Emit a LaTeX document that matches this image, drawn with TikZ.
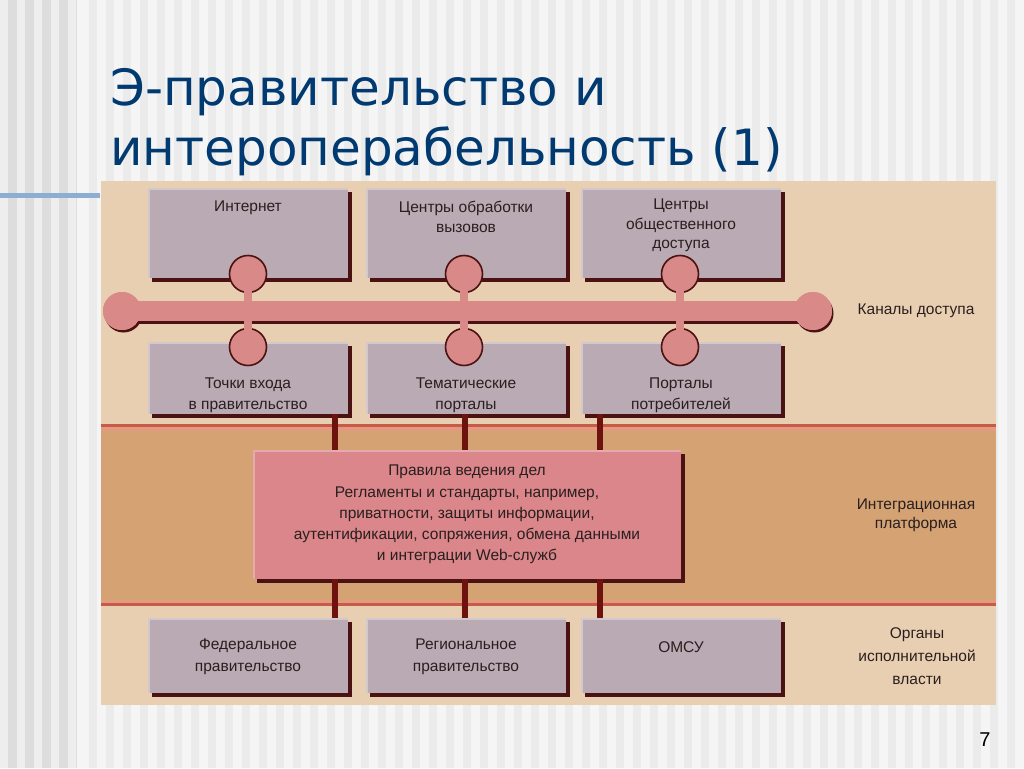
\documentclass[tikz,border=0pt]{standalone}
\usepackage{fontspec}
\setmainfont{Liberation Sans}
\newfontfamily\titlefont{DejaVu Sans}
\usetikzlibrary{shadows}
\definecolor{bgA}{HTML}{F5F5F5}
\definecolor{bgB}{HTML}{EBEBEB}
\definecolor{bgL}{HTML}{DDDDDD}
\definecolor{bgLl}{HTML}{EEEEEE}
\definecolor{beige}{HTML}{E9CFB2}
\definecolor{band}{HTML}{D4A273}
\definecolor{bandline}{HTML}{C65C48}
\definecolor{bandpink}{HTML}{E39A80}
\definecolor{boxfill}{HTML}{B9AAB3}
\definecolor{shadowc}{HTML}{4A1212}
\definecolor{barpink}{HTML}{D98A88}
\definecolor{platpink}{HTML}{DA868A}
\definecolor{connc}{HTML}{6E1210}
\definecolor{titleblue}{HTML}{003A70}
\definecolor{txt}{HTML}{2A1F1F}
\definecolor{blueline}{HTML}{8CAED0}
\tikzset{
  hilite/.style={path picture={\draw[line width=3pt, #1]
      (path picture bounding box.south west) -- (path picture bounding box.north west)
      -- (path picture bounding box.north east);}},
  gbox/.style={fill=boxfill, inner sep=0pt, minimum width=200pt, hilite=white!35!boxfill,
    drop shadow={shadow xshift=4pt, shadow yshift=-4pt, fill=shadowc, opacity=1}},
  platbox/.style={fill=platpink, inner sep=0pt, minimum width=428pt, minimum height=129pt,
    hilite=white!30!platpink,
    drop shadow={shadow xshift=4pt, shadow yshift=-4pt, fill=shadowc, opacity=1}},
  lbl/.style={inner sep=0pt, align=center, text=txt, font=\fontsize{15.5}{19.5}\selectfont},
  hub/.style={circle, fill=barpink, draw=shadowc, line width=1.6pt, minimum size=37pt, inner sep=0pt},
  hubend/.style={circle, fill=barpink, minimum size=38pt, inner sep=0pt,
    drop shadow={shadow xshift=1.5pt, shadow yshift=-2.5pt, fill=shadowc, opacity=1}},
  stem/.style={barpink, line width=8pt},
  vconn/.style={connc, line width=6pt},
  titletext/.style={anchor=base west, inner sep=0pt, text=titleblue, font=\titlefont\fontsize{50}{60}\selectfont},
}
\begin{document}
\begin{tikzpicture}[x=1pt,y=-1pt]
\useasboundingbox (0,0) rectangle (1024,768);
% slide background
\fill[bgA] (0,0) rectangle (1024,768);
\foreach \i in {5,...,60} \fill[bgB] (\i*17+4,0) rectangle ++(8,768);
\fill[bgL] (0,0) rectangle (77,768);
\foreach \i in {0,...,4} \fill[bgLl] (\i*17,0) rectangle ++(8,768);
\fill[blueline] (0,193) rectangle (100,198);
% title
\node[titletext] (title1) at (110,105) {Э-правительство и};
\node[titletext] (title2) at (110,165) {интероперабельность (1)};
% diagram background
\fill[beige] (101,181) rectangle (996,705);
\fill[band] (101,424) rectangle (996,606);
\fill[bandline] (101,424) rectangle (996,427);
\fill[bandpink] (101,427) rectangle (996,431);
\fill[bandpink] (101,600) rectangle (996,603);
\fill[bandline] (101,603) rectangle (996,606);
% boxes
\node[gbox, minimum height=90pt] (b1) at (248,233) {};
\node[gbox, minimum height=90pt] (b2) at (466,233) {};
\node[gbox, minimum height=90pt] (b3) at (681,233) {};
\node[gbox, minimum height=72pt] (b4) at (248,378) {};
\node[gbox, minimum height=72pt] (b5) at (466,378) {};
\node[gbox, minimum height=72pt] (b6) at (681,378) {};
\node[gbox, minimum height=75pt] (b7) at (248,655.5) {};
\node[gbox, minimum height=75pt] (b8) at (466,655.5) {};
\node[gbox, minimum height=75pt] (b9) at (681,655.5) {};
\node[platbox] (plat) at (467,514.5) {};
% dark connectors
\coordinate (k1) at (335,500);
\coordinate (k2) at (465,500);
\coordinate (k3) at (600,500);
\foreach \k/\u/\d in {k1/b4/b7, k2/b5/b8, k3/b6/b9} {
  \draw[vconn] (\k |- \u.south) -- (\k |- plat.north);
  \draw[vconn] (\k |- plat.south) -- (\k |- \d.north);
}
% access channel bar
\node[hubend] (eL) at (122,311) {};
\node[hubend] (eR) at (813,311) {};
\draw[shadowc, line width=20pt] ([yshift=-3pt]eL.center) -- ([yshift=-3pt]eR.center);
\draw[barpink, line width=20pt] (eL.center) -- (eR.center);
\node[hub] (h1t) at (248,274) {};
\node[hub] (h1b) at (248,347) {};
\node[hub] (h2t) at (464,274) {};
\node[hub] (h2b) at (464,347) {};
\node[hub] (h3t) at (680,274) {};
\node[hub] (h3b) at (680,347) {};
\fill[barpink] (eL) circle (19);
\fill[barpink] (eR) circle (19);
\draw[barpink, line width=20pt] (eL.center) -- (eR.center);
\draw[stem] (h1t.center) -- (h1b.center);
\draw[stem] (h2t.center) -- (h2b.center);
\draw[stem] (h3t.center) -- (h3b.center);
% labels in boxes
\node[lbl, anchor=north] (t1) at (248,201) {Интернет};
\node[lbl, anchor=north] (t2) at (466,201) {Центры обработки\\вызовов};
\node[lbl, anchor=north] (t3) at (681,199) {Центры\\общественного\\доступа};
\node[lbl, anchor=north, font=\fontsize{15.5}{20.5}\selectfont] (t4) at (248,378) {Точки входа\\в правительство};
\node[lbl, anchor=north, font=\fontsize{15.5}{20.5}\selectfont] (t5) at (466,378) {Тематические\\порталы};
\node[lbl, anchor=north, font=\fontsize{15.5}{20.5}\selectfont] (t6) at (681,378) {Порталы\\потребителей};
\node[lbl, anchor=north, font=\fontsize{15.5}{21.2}\selectfont] (tp) at (467,465) {Правила ведения дел\\Регламенты и стандарты, например,\\приватности, защиты информации,\\аутентификации, сопряжения, обмена данными\\и интеграции Web-служб};
\node[lbl, anchor=north, font=\fontsize{15.5}{22}\selectfont] (t7) at (248,639) {Федеральное\\правительство};
\node[lbl, anchor=north, font=\fontsize{15.5}{22}\selectfont] (t8) at (466,639) {Региональное\\правительство};
\node[lbl, anchor=north] (t9) at (681,641) {ОМСУ};
% right-hand labels
\node[lbl] (r1) at (916,311) {Каналы доступа};
\node[lbl, anchor=north, font=\fontsize{15.5}{19}\selectfont] (r2) at (916,499) {Интеграционная\\платформа};
\node[lbl, anchor=north, font=\fontsize{15.5}{23}\selectfont] (r3) at (917,627) {Органы\\исполнительной\\власти};
% page number
\node[font=\fontsize{20}{24}\selectfont, inner sep=0pt] (pg) at (985,740) {7};
\end{tikzpicture}
\end{document}
